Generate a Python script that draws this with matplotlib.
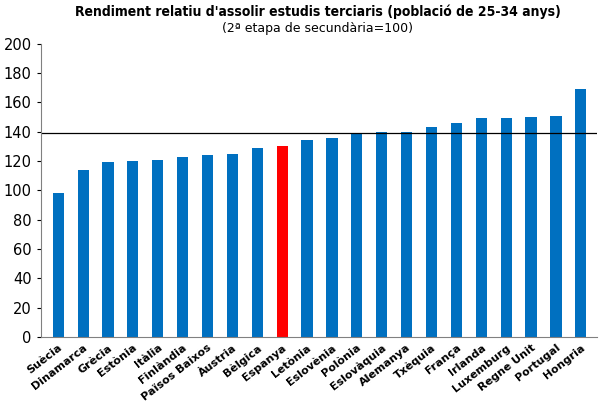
import matplotlib.pyplot as plt

countries = ['Suècia', 'Dinamarca', 'Grècia', 'Estònia', 'Itàlia', 'Finlàndia', 'Països Baixos',
             'Àustria', 'Bèlgica', 'Espanya', 'Letònia', 'Eslovènia', 'Polònia', 'Eslovàquia',
             'Alemanya', 'Txèquia', 'França', 'Irlanda', 'Luxemburg', 'Regne Unit', 'Portugal', 'Hongria']
values = [98, 114, 119, 120, 121, 123, 124, 125, 129, 130, 134, 136, 139, 140,
          140, 143, 146, 149, 149, 150, 151, 169]
average = 139
highlight = 'Espanya'

colors = ['#ff0000' if c == highlight else '#0070c0' for c in countries]

fig = plt.figure(figsize=(6, 4.12), dpi=100)
ax = fig.add_axes([0.068, 0.182, 0.927, 0.712])
x = range(len(countries))
ax.bar(x, values, width=0.45, color=colors)
ax.axhline(average, color='black', linewidth=0.9)
ax.set_xlim(-0.7, len(countries) - 0.35)
ax.set_ylim(0, 200)
ax.set_yticks(range(0, 201, 20))
ax.set_xticks(list(x))
ax.set_xticklabels(countries, rotation=38, ha='right', rotation_mode='anchor', fontweight='bold', fontsize=8)
ax.tick_params(axis='y', labelsize=10.5, length=3)
ax.tick_params(axis='x', length=0, pad=4)
ax.spines['top'].set_visible(False)
ax.spines['right'].set_visible(False)
ax.spines['left'].set_color('#808080')
ax.spines['bottom'].set_color('#808080')

fig.text(0.53, 0.972, "Rendiment relatiu d'assolir estudis terciaris (població de 25-34 anys)",
         ha='center', va='center', fontsize=10, fontweight='bold', stretch='condensed')
fig.text(0.53, 0.932, '(2ª etapa de secundària=100)', ha='center', va='center', fontsize=9)

fig.savefig('out.png', dpi=100)
